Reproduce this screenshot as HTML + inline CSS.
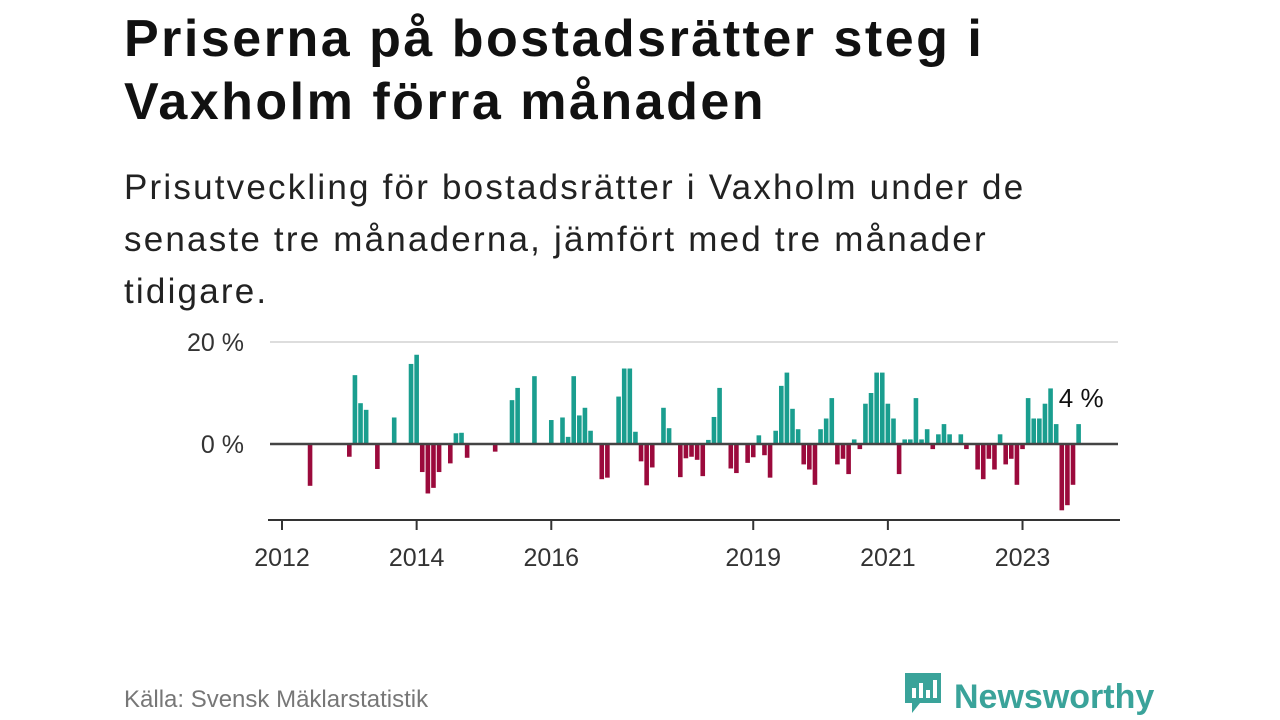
<!DOCTYPE html>
<html><head><meta charset="utf-8"><style>
body{margin:0;width:1280px;height:720px;background:#fff;font-family:"Liberation Sans","DejaVu Sans",sans-serif;overflow:hidden;position:relative}
h1{position:absolute;left:124px;top:8px;margin:0;font-size:52px;line-height:63px;font-weight:bold;color:#111;letter-spacing:2.5px;white-space:nowrap}
.sub{position:absolute;left:124px;top:162px;margin:0;font-size:35px;line-height:52px;color:#222;letter-spacing:2.2px;white-space:nowrap}
.src{position:absolute;left:124px;top:686px;font-size:24px;color:#777}
.logo{position:absolute;left:902px;top:670px;font-size:34px;font-weight:bold;color:#3aa39a}
</style></head><body>
<h1>Priserna på bostadsrätter steg i<br>Vaxholm förra månaden</h1>
<p class="sub">Prisutveckling för bostadsrätter i Vaxholm under de<br>senaste tre månaderna, jämfört med tre månader<br>tidigare.</p>
<svg id="chart" width="1280" height="720" style="position:absolute;left:0;top:0"></svg>
<div class="src">Källa: Svensk Mäklarstatistik</div>
<div class="logo"><svg width="42" height="46" viewBox="0 0 42 46" style="vertical-align:-8px;margin-right:10px"><path d="M3 3h36v30H18l-8 10v-10H3z" fill="#3aa39a"/><rect x="10" y="18" width="4" height="10" fill="#fff"/><rect x="17" y="13" width="4" height="15" fill="#fff"/><rect x="24" y="20" width="4" height="8" fill="#fff"/><rect x="31" y="10" width="4" height="18" fill="#fff"/></svg>Newsworthy</div>
<script>
const startYear = 2012;
const values = [0,0,0,0,0,-8.2,0,0,0,0,0,0,
-2.5,13.5,8,6.7,0,-4.9,0,0,5.2,0,0,15.7,
17.5,-5.5,-9.7,-8.6,-5.5,0,-3.8,2.1,2.2,-2.7,0,0,
0,0,-1.5,0,0,8.6,11,0,0,13.3,0,0,
4.7,0,5.2,1.4,13.3,5.6,7.1,2.6,0,-6.9,-6.6,0,
9.3,14.8,14.8,2.4,-3.4,-8.1,-4.6,0,7.1,3.1,0,-6.5,
-2.8,-2.5,-3.1,-6.3,0.8,5.3,11,0,-4.8,-5.7,0,-3.7,
-2.6,1.7,-2.2,-6.6,2.6,11.4,14,6.9,2.9,-4,-5,-8,
2.9,5,9,-4,-2.9,-5.9,0.9,-1,7.9,10,14,14,
7.9,5,-5.9,0.9,0.9,9,0.9,2.9,-1,1.9,3.9,1.9,
0,1.9,-1,0,-5,-6.9,-2.9,-5,1.9,-4,-2.9,-8,
-1,9,5,5,7.9,10.9,3.9,-13,-12,-8,3.9];
const yTicks = [0,20];
const yTickLabels = ["0 %","20 %"];
const xTickYears = [2012,2014,2016,2019,2021,2023];
const lastLabel = "4 %";

const svg = document.getElementById('chart');
const NS = 'http://www.w3.org/2000/svg';
const x0 = 282, pxPerMonth = 5.61;
const xScale = m => x0 + m * pxPerMonth;
const yScale = v => 444 - v * 5.1;
function mk(tag, attrs){const e=document.createElementNS(NS,tag);for(const k in attrs)e.setAttribute(k,attrs[k]);svg.appendChild(e);return e;}

yTicks.forEach((t,i)=>{
  if(t!==0){const g=mk('line',{x1:270,x2:1118,y1:yScale(t),y2:yScale(t),stroke:'#ddd','stroke-width':2});
  
  }
  const tx=mk('text',{x:244,y:yScale(t)+9,'text-anchor':'end','font-size':25,fill:'#333','font-family':'Liberation Sans, sans-serif'});
  tx.textContent=yTickLabels[i];
  
  
});
values.forEach((v,i)=>{
  if(v===0)return;
  const y=Math.min(yScale(v),yScale(0));
  const r=mk('rect',{x:xScale(i)-2.3,y:y,width:4.6,height:Math.abs(yScale(v)-yScale(0)),fill:v>0?'#1a9e8f':'#9b0a3c'});
  
  
});
const zl=mk('line',{x1:270,x2:1118,y1:yScale(0),y2:yScale(0),stroke:'#444','stroke-width':2.5});


const ax=mk('line',{x1:268,x2:1120,y1:520,y2:520,stroke:'#333','stroke-width':2});


xTickYears.forEach(yr=>{
  const x=xScale((yr-startYear)*12);
  const t=mk('line',{x1:x,x2:x,y1:520,y2:530,stroke:'#333','stroke-width':2});
  
  
  const tx=mk('text',{x:x,y:566,'text-anchor':'middle','font-size':25,fill:'#333','font-family':'Liberation Sans, sans-serif'});
  tx.textContent=yr;
  
  
});
const li=values.length-1;
const lab=mk('text',{x:xScale(li)+25,y:yScale(values[li])-17,'text-anchor':'end','font-size':26,fill:'#111',stroke:'#fff','stroke-width':4,'paint-order':'stroke','font-family':'Liberation Sans, sans-serif'});
lab.textContent=lastLabel;


</script>
</body></html>
